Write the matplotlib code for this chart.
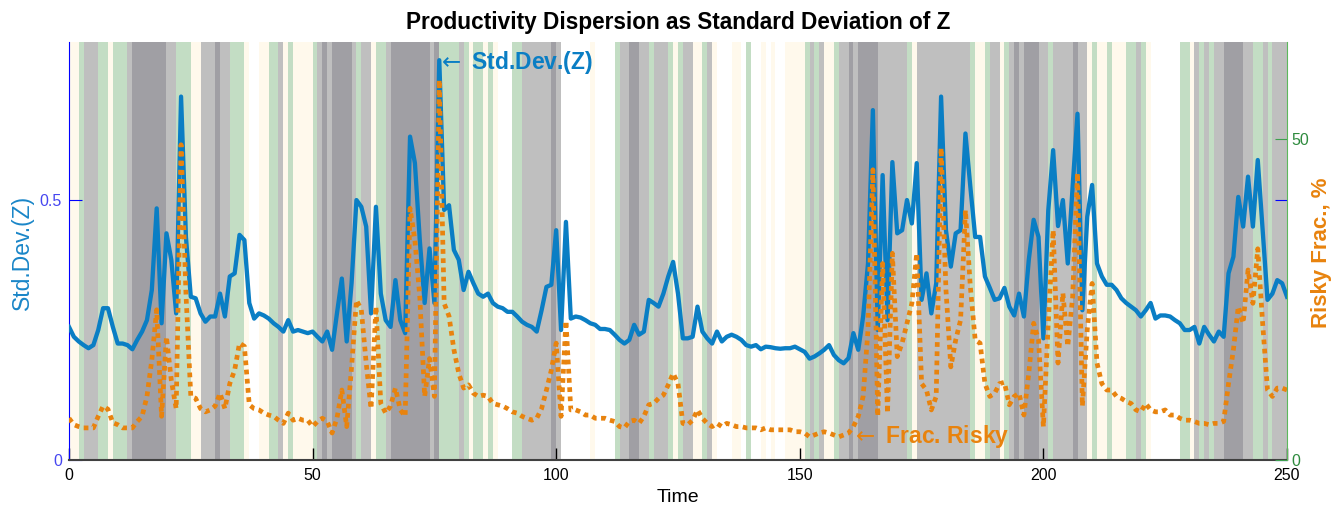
import matplotlib
matplotlib.use("Agg")
import matplotlib.pyplot as plt
import numpy as np

plt.rcParams["font.family"] = ["Liberation Sans", "DejaVu Sans"]

# time axis
time = np.arange(0, 251)

# productivity dispersion, std dev of Z (left axis)
std_z = [
    0.256, 0.237, 0.228, 0.221, 0.215, 0.221, 0.250, 0.292, 0.292, 0.256,
    0.224, 0.224, 0.221, 0.213, 0.231, 0.247, 0.269, 0.327, 0.484, 0.263,
    0.436, 0.385, 0.282, 0.699, 0.429, 0.314, 0.311, 0.282, 0.266, 0.276,
    0.276, 0.320, 0.276, 0.353, 0.359, 0.433, 0.423, 0.302, 0.272, 0.282,
    0.278, 0.272, 0.263, 0.256, 0.247, 0.269, 0.247, 0.250, 0.247, 0.244,
    0.247, 0.237, 0.228, 0.247, 0.212, 0.282, 0.349, 0.228, 0.340, 0.500,
    0.487, 0.449, 0.282, 0.487, 0.320, 0.269, 0.256, 0.346, 0.269, 0.244,
    0.622, 0.571, 0.423, 0.302, 0.407, 0.302, 0.769, 0.481, 0.490, 0.404,
    0.385, 0.327, 0.362, 0.340, 0.320, 0.314, 0.320, 0.302, 0.295, 0.292,
    0.285, 0.285, 0.276, 0.266, 0.260, 0.256, 0.247, 0.288, 0.333, 0.337,
    0.442, 0.250, 0.458, 0.272, 0.276, 0.274, 0.269, 0.263, 0.260, 0.252,
    0.252, 0.250, 0.241, 0.231, 0.224, 0.231, 0.260, 0.241, 0.247, 0.308,
    0.302, 0.295, 0.320, 0.353, 0.381, 0.320, 0.234, 0.234, 0.237, 0.295,
    0.247, 0.234, 0.224, 0.247, 0.228, 0.237, 0.241, 0.237, 0.231, 0.221,
    0.218, 0.221, 0.213, 0.218, 0.217, 0.215, 0.214, 0.215, 0.215, 0.218,
    0.213, 0.208, 0.195, 0.199, 0.205, 0.212, 0.221, 0.202, 0.192, 0.186,
    0.196, 0.244, 0.212, 0.276, 0.378, 0.673, 0.250, 0.548, 0.269, 0.573,
    0.436, 0.442, 0.500, 0.455, 0.571, 0.308, 0.359, 0.282, 0.340, 0.699,
    0.442, 0.372, 0.436, 0.442, 0.628, 0.526, 0.429, 0.429, 0.353, 0.331,
    0.308, 0.311, 0.331, 0.295, 0.278, 0.320, 0.276, 0.385, 0.462, 0.429,
    0.234, 0.480, 0.596, 0.450, 0.500, 0.378, 0.526, 0.666, 0.288, 0.468,
    0.529, 0.378, 0.353, 0.337, 0.337, 0.327, 0.311, 0.302, 0.295, 0.288,
    0.276, 0.288, 0.302, 0.272, 0.278, 0.278, 0.276, 0.269, 0.263, 0.250,
    0.250, 0.256, 0.224, 0.256, 0.241, 0.228, 0.247, 0.237, 0.359, 0.391,
    0.506, 0.449, 0.545, 0.449, 0.577, 0.442, 0.308, 0.320, 0.346, 0.340,
    0.314,
]

# fraction of risky, percent (right axis)
frac_risky = [
    6.5, 5.5, 5.2, 5.0, 5.0, 5.0, 6.8, 8.4, 7.9, 5.8,
    5.5, 5.0, 5.0, 5.0, 6.0, 6.8, 9.9, 15.6, 23.4, 6.8,
    19.2, 12.4, 8.0, 49.1, 26.0, 9.9, 9.6, 8.0, 7.5, 7.8,
    8.4, 10.4, 8.0, 11.9, 14.0, 18.2, 17.7, 8.6, 8.0, 7.8,
    7.3, 7.0, 6.8, 6.2, 5.7, 7.3, 6.2, 6.5, 6.2, 6.2,
    5.2, 6.0, 6.5, 6.0, 4.2, 6.5, 10.9, 5.2, 14.5, 24.9,
    23.4, 15.1, 8.0, 23.9, 8.8, 7.3, 8.4, 11.2, 7.8, 6.8,
    39.2, 34.2, 25.4, 9.9, 15.8, 9.9, 59.2, 24.4, 22.4, 17.2,
    13.5, 11.2, 11.7, 10.4, 9.9, 10.1, 9.9, 8.8, 8.6, 8.4,
    8.0, 7.5, 7.3, 6.8, 6.5, 6.2, 6.5, 8.0, 10.9, 14.0,
    18.2, 6.8, 21.7, 7.8, 7.8, 7.5, 7.0, 7.0, 6.5, 6.5,
    6.5, 6.2, 6.0, 5.2, 5.0, 6.0, 6.2, 5.7, 6.8, 8.6,
    8.8, 9.6, 10.1, 11.7, 13.5, 11.9, 5.7, 5.5, 6.2, 7.8,
    6.5, 5.7, 5.2, 5.7, 5.2, 5.7, 5.5, 5.2, 5.2, 5.0,
    5.0, 5.0, 4.7, 5.0, 4.7, 4.7, 4.7, 4.7, 4.7, 4.4,
    4.4, 4.2, 3.6, 3.9, 4.2, 4.4, 4.2, 3.9, 3.6, 3.9,
    4.2, 5.2, 6.8, 9.9, 20.3, 45.2, 6.8, 30.6, 7.3, 32.2,
    16.1, 18.2, 21.3, 24.4, 32.2, 11.9, 10.9, 7.8, 9.9, 48.6,
    26.5, 14.5, 18.7, 21.8, 38.9, 27.0, 18.7, 18.2, 11.9, 9.9,
    10.4, 11.9, 12.1, 8.6, 9.9, 10.4, 7.0, 13.5, 21.3, 18.7,
    5.2, 21.3, 35.8, 15.1, 26.0, 17.7, 25.4, 44.7, 8.4, 20.3,
    27.5, 15.1, 11.9, 10.9, 10.9, 9.9, 9.6, 9.1, 8.8, 7.8,
    7.5, 8.8, 7.8, 7.5, 7.5, 7.8, 7.0, 7.0, 6.5, 6.2,
    6.2, 6.0, 5.7, 5.7, 5.5, 5.7, 5.7, 6.0, 11.9, 17.2,
    23.9, 21.3, 29.6, 24.4, 32.9, 21.3, 10.9, 9.9, 11.2, 11.2,
    10.9,
]

# background regimes: start time of each run and its state
# W = none, C = cream, G = green, L = light gray, D = dark gray
regime_start = [
    0, 2, 3, 6, 8, 9, 12, 13, 20, 22, 25, 27, 30, 31, 33, 36, 37, 39, 41, 43,
    44, 45, 46, 50, 51, 52, 53, 54, 58, 59, 60, 62, 63, 65, 66, 74, 75, 76, 80, 81,
    82, 83, 85, 86, 87, 88, 91, 93, 99, 100, 101, 107, 108, 112, 113, 115, 117, 119, 120, 123,
    124, 125, 126, 128, 130, 131, 132, 133, 136, 138, 139, 140, 142, 143, 144, 145, 147, 151, 152, 153,
    154, 155, 157, 158, 160, 161, 162, 166, 172, 173, 174, 185, 186, 188, 189, 191, 192, 193, 194, 195,
    196, 199, 201, 202, 206, 207, 209, 210, 211, 213, 214, 217, 219, 220, 221, 222, 228, 230, 231, 232,
    233, 234, 235, 237, 241, 243, 245, 246, 247,
]
regime_state = [
    "C", "G", "L", "G", "C", "G", "L", "D", "L", "G", "C", "L", "D", "L", "G", "C", "W", "C", "G", "L",
    "C", "G", "C", "G", "L", "D", "L", "D", "L", "G", "L", "C", "G", "L", "D", "L", "D", "G", "L", "G",
    "C", "G", "C", "G", "C", "W", "G", "L", "D", "L", "W", "C", "W", "G", "L", "D", "L", "G", "L", "G",
    "C", "G", "L", "C", "G", "L", "C", "W", "C", "W", "G", "W", "C", "W", "C", "W", "C", "G", "L", "G",
    "L", "C", "G", "L", "D", "L", "D", "L", "G", "C", "L", "G", "C", "G", "L", "C", "G", "L", "D", "L",
    "D", "L", "G", "L", "D", "L", "C", "G", "C", "G", "C", "G", "L", "G", "C", "W", "G", "C", "L", "G",
    "L", "G", "L", "D", "L", "G", "L", "G", "L",
]
regime_colors = {"C": "#fff9ec", "G": "#c3ddc4", "L": "#bfbfbf", "D": "#a09fa4"}

blue = "#0a7ec4"
orange = "#e8830e"
green = "#3f9f4f"

fig = plt.figure(figsize=(13.36, 5.08), dpi=100)
ax = fig.add_axes([69 / 1336, 48 / 508, 1218 / 1336, 418 / 508])
ax2 = ax.twinx()

ends = regime_start[1:] + [250]
for s, e, st in zip(regime_start, ends, regime_state):
    if st != "W":
        ax.axvspan(s, e, color=regime_colors[st], lw=0, zorder=0)

ax.plot(time, std_z, color=blue, lw=3.1, zorder=3)
ax2.plot(time, frac_risky, color=orange, lw=3.4, ls=(0, (1, 0.95)))

ax.set_xlim(0, 250)
ax.set_ylim(0, 0.804)
ax2.set_ylim(0, 65.1)

ax.set_xticks(range(0, 251, 50))
ax.set_yticks([0, 0.5])
ax.set_yticklabels(["0", "0.5"])
ax2.set_yticks([0, 50])

ax.tick_params(axis="x", direction="in", length=9, width=1, labelsize=11.5, pad=6)
ax.tick_params(axis="y", direction="in", length=9, color="blue", labelcolor="#4646f0",
               labelsize=11.5, pad=5, right=True)
ax2.tick_params(axis="y", direction="in", length=9, color=green, labelcolor="#2e8b3e",
                labelsize=11.5, pad=3)

for sp in ["top", "right"]:
    ax.spines[sp].set_visible(False)
for sp in ["top", "left", "bottom"]:
    ax2.spines[sp].set_visible(False)
ax.spines["left"].set_color("blue")
ax.spines["bottom"].set_color("#404040")
ax.spines["bottom"].set_linewidth(1.5)
ax2.spines["right"].set_color("#5cb85c")

ax.text(75.5, 0.765, r"$\leftarrow$ Std.Dev.(Z)", color=blue, fontsize=16.5,
        fontweight="bold", ha="left", va="center", zorder=5)
ax2.text(160.6, 3.6, r"$\leftarrow$ Frac. Risky", color=orange, fontsize=16.5,
         fontweight="bold", ha="left", va="center")

fig.text(678 / 1336, 1 - 22 / 508, "Productivity Dispersion as Standard Deviation of Z",
         fontsize=16.3, fontweight="bold", ha="center", va="center")
fig.text(678 / 1336, 1 - 497 / 508, "Time", fontsize=14, ha="center", va="center")
fig.text(22 / 1336, 1 - 252 / 508, "Std.Dev.(Z)", color="#1a86c8", fontsize=16.5,
         rotation=90, ha="center", va="center")
fig.text(1322 / 1336, 1 - 253 / 508, "Risky Frac., %", color=orange, fontsize=16,
         fontweight="bold", rotation=90, ha="center", va="center")

fig.savefig("out.png", dpi=100)
